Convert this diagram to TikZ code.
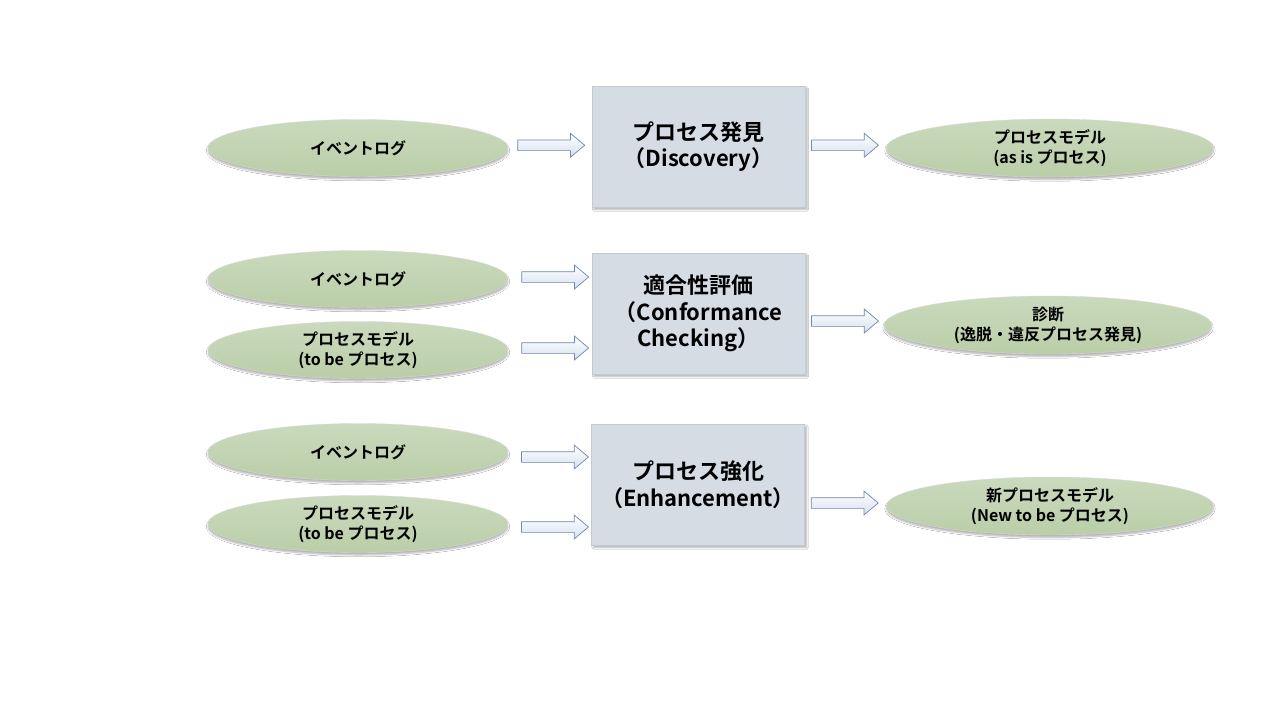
\documentclass[tikz,border=0pt]{standalone}
\usepackage{fontspec}
\newfontfamily\jp{Noto Sans CJK JP}[BoldFont={* Bold}]
\usetikzlibrary{shapes.geometric,shapes.arrows,shadows.blur,calc}
\definecolor{ellA}{RGB}{202,218,189}
\definecolor{ellB}{RGB}{186,206,168}
\definecolor{boxfill}{RGB}{214,220,228}
\definecolor{boxline}{RGB}{196,202,210}
\definecolor{arrline}{RGB}{112,136,170}
\definecolor{arrfill}{RGB}{214,224,240}
\tikzset{
  ell/.style={ellipse, draw=white!85!black, line width=0.4pt, top color=ellA, bottom color=ellB,
    minimum width=300pt, minimum height=57pt, inner sep=0pt, align=center,
    font=\jp\bfseries\fontsize{16}{20}\selectfont,
    blur shadow={shadow xshift=0pt, shadow yshift=-2.5pt, shadow blur steps=6, shadow opacity=30}},
  ellR/.style={ell, minimum width=327pt, minimum height=58pt},
  proc/.style={rectangle, draw=boxline, line width=0.5pt, fill=boxfill,
    minimum width=213pt, minimum height=121pt, inner sep=0pt, align=center,
    font=\jp\bfseries\fontsize{22}{26.5}\selectfont,
    blur shadow={shadow xshift=2pt, shadow yshift=-2.5pt, shadow blur steps=5, shadow opacity=30}},
  barrow/.style={single arrow, draw=arrline, line width=0.7pt, top color=white, bottom color=arrfill,
    single arrow head extend=6.5pt, single arrow tip angle=80,
    minimum height=67pt, inner xsep=0pt, inner ysep=5pt}
}
\begin{document}
\begin{tikzpicture}[x=1pt,y=-1pt]
\useasboundingbox[fill=white] (0,0) rectangle (1280,720);

% Row 1: Discovery
\node[ell] (ev1) at (358,148) {イベントログ};
\node[proc] (p1) at (698.5,146.5) {プロセス発見\\（Discovery）};
\node[ellR] (o1) at (1050,148) {プロセスモデル\\(as is プロセス)};
\node[barrow] (a1) at ($(ev1.east)!0.5!(p1.west)+(-2,-2)$) {};
\node[barrow] (a2) at ($(p1.east)!0.5!(o1.west)+(-4,-2)$) {};

% Row 2: Conformance checking
\node[ell] (ev2) at (358,279) {イベントログ};
\node[ell] (m2) at (358,350) {プロセスモデル\\(to be プロセス)};
\node[proc] (p2) at (698.5,313.5) {適合性評価\\（Conformance\\Checking）};
\node[ellR] (o2) at (1048,325) {診断\\(逸脱・違反プロセス発見)};
\node[barrow] (a3) at ($(ev2.east)!0.5!(p2.west|-ev2)+(2,-2)$) {};
\node[barrow] (a4) at ($(m2.east)!0.5!(p2.west|-m2)+(2,-2)$) {};
\node[barrow] (a5) at ($(p2.east|-o2)!0.5!(o2.west)+(-3,-4)$) {};

% Row 3: Enhancement
\node[ell] (ev3) at (358,452) {イベントログ};
\node[ell] (m3) at (358,524) {プロセスモデル\\(to be プロセス)};
\node[proc] (p3) at (698,484.5) {プロセス強化\\（Enhancement）};
\node[ellR] (o3) at (1050,506) {新プロセスモデル\\(New to be プロセス)};
\node[barrow] (a6) at ($(ev3.east)!0.5!(p3.west|-ev3)+(2,5)$) {};
\node[barrow] (a7) at ($(m3.east)!0.5!(p3.west|-m3)+(2,3)$) {};
\node[barrow] (a8) at ($(p3.east|-o3)!0.5!(o3.west)+(-4,-3)$) {};
\end{tikzpicture}
\end{document}
